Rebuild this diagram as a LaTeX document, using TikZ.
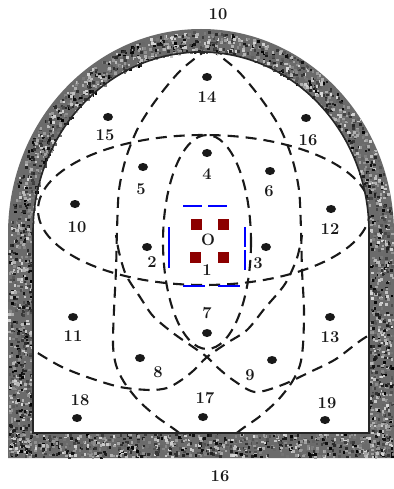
\documentclass[tikz,border=0pt]{standalone}
\usetikzlibrary{shapes.geometric}
\definecolor{darkred}{RGB}{140,0,0}
\definecolor{boxblue}{RGB}{0,0,255}
\begin{document}
\begin{tikzpicture}[x=1pt,y=-1pt,
  curve/.style={black!90,line width=2.1pt,dash pattern=on 11pt off 7pt},
  num/.style={font=\fontsize{16.5}{16.5}\selectfont\bfseries,inner sep=0pt,text=black!90},
  spot/.style={ellipse,fill=black!90,minimum width=10pt,minimum height=8pt,inner sep=0pt},
  redsq/.style={rectangle,fill=darkred,minimum size=11pt,inner sep=0pt},
  bluedash/.style={boxblue,line width=2.6pt},
]
\useasboundingbox (0,0) rectangle (393,489);
\fill[white] (0,0) rectangle (393,489);

% dashed curves, clipped to the inside of the frame
\begin{scope}
\clip (33,433) -- (33,232) arc[start angle=180,end angle=360,x radius=168,y radius=180] -- (369,433) -- cycle;
\draw[curve] (204,210) ellipse [x radius=166,y radius=75];
\draw[curve] (207,242) ellipse [x radius=44,y radius=107];
% tall pointed shape
\draw[curve] plot[smooth] coordinates {(209,48) (181,70) (156,100) (138,128) (126,158) (119,190) (117,230) (116,270) (114,310) (113,345) (116,365) (124,382) (138,400) (157,417) (178,432) (209,458)};
\draw[curve] plot[smooth] coordinates {(209,48) (237,70) (262,100) (280,128) (292,158) (299,190) (301,230) (302,270) (304,310) (303,345) (300,365) (292,382) (278,400) (259,417) (238,432) (209,458)};
% lower crossing arcs
\draw[curve] plot[smooth] coordinates {(8,333) (33,350) (60,366) (87,377) (120,387) (150,390) (167,388) (180,381) (193,371) (207,357) (227,343) (247,330) (265,308) (285,284) (297,258) (302,235)};
\draw[curve] plot[smooth] coordinates {(400,322) (366,337) (336,359) (310,372) (282,385) (255,392) (233,380) (217,367) (207,357) (193,347) (173,333) (153,316) (140,297) (126,275) (119,252) (116,235)};
\end{scope}

% frame
\fill[black!58,even odd rule]
  (8,458) -- (8,234) arc[start angle=180,end angle=360,x radius=193,y radius=205] -- (394,458) -- cycle
  (33,433) -- (33,232) arc[start angle=180,end angle=360,x radius=168,y radius=180] -- (369,433) -- cycle;
\pgfmathsetseed{7}
\foreach \i in {1,...,1300}{
  \pgfmathsetmacro{\a}{180+180*rnd}
  \pgfmathsetmacro{\f}{rnd}
  \pgfmathsetmacro{\g}{int(15+85*rnd)}
  \fill[black!\g] ({201+(168+23*\f)*cos(\a)},{232+2*\f+(180+23*\f)*sin(\a)}) rectangle ++(2.6,2.6);
}
\foreach \i in {1,...,520}{
  \pgfmathsetmacro{\g}{int(15+85*rnd)}
  \fill[black!\g] ({8+23*rnd},{232+224*rnd}) rectangle ++(2.6,2.6);
  \pgfmathsetmacro{\g}{int(15+85*rnd)}
  \fill[black!\g] ({369+23*rnd},{232+224*rnd}) rectangle ++(2.6,2.6);
}
\foreach \i in {1,...,850}{
  \pgfmathsetmacro{\g}{int(15+85*rnd)}
  \fill[black!\g] ({8+384*rnd},{433+23*rnd}) rectangle ++(2.6,2.6);
}
\draw[black!85,line width=1.6pt] (33,433) -- (33,232) arc[start angle=180,end angle=360,x radius=168,y radius=180] -- (369,433) -- cycle;

% blue dashed box
\coordinate (bNW) at (169,206);
\coordinate (bSE) at (245,286);
\draw[bluedash] (183,206) -- (202,206) (208,206) -- (227,206);
\draw[bluedash] (183,286) -- (205,286) (218,286) -- (240,286);
\draw[bluedash] (169,227) -- (169,268);
\draw[bluedash] (245,227) -- (245,247) (245,250) -- (245,270);

% red squares
\node[redsq] (r1) at (196,224) {};
\node[redsq] (r2) at (223,224) {};
\node[redsq] (r3) at (195,257) {};
\node[redsq] (r4) at (223,257) {};
\node[num] (nO) at (208,240) {O};
\node[num] (n1) at (207,270) {1};

% labels
\node[num] (ntop) at (218,14) {10};
\node[num] (nbot) at (220,476) {16};

\node[spot] (d14) at (207,77) {};  \node[num] (n14) at (207,97) {14};
\node[spot] (d15) at (108,117) {}; \node[num] (n15) at (105,135) {15};
\node[spot] (d16) at (306,118) {}; \node[num] (n16) at (308,140) {16};
\node[spot] (d4) at (207,153) {};  \node[num] (n4) at (207,174) {4};
\node[spot] (d5) at (143,167) {};  \node[num] (n5) at (141,189) {5};
\node[spot] (d6) at (270,171) {};  \node[num] (n6) at (269,191) {6};
\node[spot] (d10) at (75,204) {};  \node[num] (n10) at (77,227) {10};
\node[spot] (d12) at (331,209) {}; \node[num] (n12) at (330,229) {12};
\node[spot] (d2) at (147,247) {};  \node[num] (n2) at (152,262) {2};
\node[spot] (d3) at (266,247) {};  \node[num] (n3) at (258,263) {3};
\node[num] (n7) at (207,313) {7};  \node[spot] (d7) at (207,333) {};
\node[spot] (d8) at (140,358) {};  \node[num] (n8) at (158,372) {8};
\node[spot] (d9) at (272,360) {};  \node[num] (n9) at (250,375) {9};
\node[spot] (d11) at (73,317) {};  \node[num] (n11) at (73,336) {11};
\node[spot] (d13) at (330,317) {}; \node[num] (n13) at (330,337) {13};
\node[num] (n17) at (205,398) {17}; \node[spot] (d17) at (203,417) {};
\node[num] (n18) at (80,400) {18};  \node[spot] (d18) at (77,418) {};
\node[num] (n19) at (327,403) {19}; \node[spot] (d19) at (325,420) {};
\end{tikzpicture}
\end{document}
